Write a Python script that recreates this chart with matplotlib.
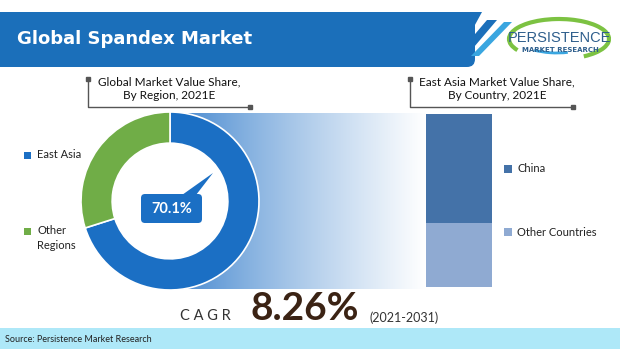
import numpy as np
import matplotlib
matplotlib.use("Agg")
import matplotlib.pyplot as plt
from matplotlib.patches import Polygon, FancyBboxPatch, Rectangle, Arc, Circle

# ---- data ----
regions = ["East Asia", "Other Regions"]
region_share = [70.1, 29.9]
region_colors = ["#1b6fc4", "#70ad47"]
countries = ["China", "Other Countries"]
country_share = [63.0, 37.0]
country_colors = ["#4472a8", "#8faad2"]
title = "Global Spandex Market"
sub_left = "Global Market Value Share,\nBy Region, 2021E"
sub_right = "East Asia Market Value Share,\nBy Country, 2021E"
cagr_value = "8.26%"
cagr_period = "(2021-2031)"
source = "Source: Persistence Market Research"

W, H = 620, 349
fig = plt.figure(figsize=(6.2, 3.49), dpi=100)
fig.patch.set_facecolor("white")
ax = fig.add_axes([0, 0, 1, 1])
ax.set_xlim(0, W)
ax.set_ylim(H, 0)
ax.axis("off")

FONT = "Lato"

# header banner
banner = FancyBboxPatch((-20, 12), 495, 55, boxstyle="round,pad=0,rounding_size=8",
                        fc="#1b6fba", ec="none", zorder=2)
ax.add_patch(banner)
ax.add_patch(Polygon([[440, 12], [482, 12], [452, 67], [420, 67]], closed=True,
                     fc="#1b6fba", ec="none", zorder=2))
ax.add_patch(Polygon([[487, 20], [497, 20], [457, 67], [447, 67]], closed=True,
                     fc="#1b6fba", ec="none", zorder=2))
ax.add_patch(Polygon([[504, 22], [512, 22], [479, 56], [471, 56]], closed=True,
                     fc="#3aa6e0", ec="none", zorder=2))
ax.text(17, 39, title, color="white", fontsize=13, fontweight="bold",
        family="DejaVu Sans", va="center", ha="left", zorder=3)

# logo
ax.add_patch(Arc((559, 39), 100, 40, theta1=165, theta2=35, color="#7cc242", lw=3, zorder=3))
ax.add_patch(Arc((557, 37), 80, 32, theta1=55, theta2=150, color="#3aa6e0", lw=2, zorder=3))
ax.text(559, 37.5, "PERSISTENCE", color="#2e5e8c", fontsize=10.5,
        family="Liberation Sans", ha="center", va="center", zorder=4)
ax.text(560, 50, "MARKET RESEARCH", color="#2e5e8c", fontsize=5, family="DejaVu Sans",
        fontweight="bold", ha="center", va="center", zorder=4)

# subtitles with brackets
def bracket(x0, x1, y0, y1):
    ax.plot([x0, x0, x1], [y0, y1, y1], color="#555555", lw=1, zorder=3)
    ax.plot([x0], [y0], marker="s", ms=2.5, color="#555555", zorder=3)
    ax.plot([x1], [y1], marker="s", ms=2.5, color="#555555", zorder=3)

bracket(88, 250, 79, 107)
ax.text(169, 89, sub_left, fontsize=8.5, family=FONT, color="#111111",
        ha="center", va="center", linespacing=1.3, zorder=3)
bracket(410, 573, 79, 107)
ax.text(497, 89, sub_right, fontsize=8.5, family=FONT, color="#111111",
        ha="center", va="center", linespacing=1.3, zorder=3)

# gradient band
gx = np.linspace(0, 1, 256)
t = np.clip(gx, 0, 1) ** 0.8
c0 = np.array([0.22, 0.50, 0.80])
grad = (c0[None, :] * (1 - t[:, None]) + np.ones(3)[None, :] * t[:, None])
img = np.tile(grad[None, :, :], (2, 1, 1))
ax.imshow(img, extent=[170, 425, 289, 113], aspect="auto", zorder=1, interpolation="bilinear")
ax.set_xlim(0, W)
ax.set_ylim(H, 0)

# donut
cx, cy, r = 170, 201, 89
pax = fig.add_axes([(cx - r) / W, (H - cy - r) / H, 2 * r / W, 2 * r / H])
pax.add_patch(Circle((0, 0), 0.66, fc="white", ec="none", zorder=0))
pax.pie(region_share, colors=region_colors, startangle=90, counterclock=False,
        radius=1, wedgeprops=dict(width=0.35, edgecolor="white", linewidth=1.2))
pax.set_xlim(-1, 1)
pax.set_ylim(-1, 1)
pax.set_aspect("auto")
pax.axis("off")

# overlay for callout (drawn above the donut axes)
ov = fig.add_axes([0, 0, 1, 1])
ov.set_xlim(0, W)
ov.set_ylim(H, 0)
ov.axis("off")
ov.patch.set_alpha(0)
ov.add_patch(FancyBboxPatch((141, 194), 61, 29, boxstyle="round,pad=0,rounding_size=4",
                            fc="#1b6fc4", ec="none", zorder=5))
ov.add_patch(Polygon([[182, 195], [196, 195], [213, 173]], closed=True,
                     fc="#1b6fc4", ec="none", zorder=5))
ov.text(171.5, 209, f"{region_share[0]}%", color="white", fontsize=10.5, fontweight="bold",
        family=FONT, ha="center", va="center", zorder=6)

# left legend
ly = [155, 231]
ax.add_patch(Rectangle((24, ly[0] - 3.5), 7, 7, fc=region_colors[0], ec="none", zorder=3))
ax.text(37, ly[0], regions[0], fontsize=8, family=FONT, color="#222222", ha="left",
        va="center", zorder=3)
ax.add_patch(Rectangle((24, ly[1] - 3.5), 7, 7, fc=region_colors[1], ec="none", zorder=3))
ax.text(37, ly[1] - 6, regions[1].replace(" ", "\n"), fontsize=8, family=FONT,
        color="#222222", ha="left", va="top", linespacing=1.4, zorder=3)

# stacked bar
bx0, bx1, by0, by1 = 426, 492, 114, 287
bax = fig.add_axes([bx0 / W, (H - by1) / H, (bx1 - bx0) / W, (by1 - by0) / H])
bottom = 0
for val, col in zip(country_share[::-1], country_colors[::-1]):
    bax.bar([0], [val], bottom=bottom, width=1.0, color=col, edgecolor="none")
    bottom += val
bax.set_xlim(-0.5, 0.5)
bax.set_ylim(0, 100)
bax.axis("off")

ry = [169, 232]
for i, (lab, col) in enumerate(zip(countries, country_colors)):
    ax.add_patch(Rectangle((504, ry[i] - 4), 8, 8, fc=col, ec="none", zorder=3))
    ax.text(517, ry[i], lab, fontsize=8, family=FONT, color="#222222", ha="left",
            va="center", zorder=3)

# CAGR
ax.text(180, 316, "C A G R", fontsize=10.5, family=FONT, color="#333333",
        ha="left", va="center", zorder=3)
ax.text(250, 308, cagr_value, fontsize=28, fontweight="bold", family=FONT,
        color="#3b2314", ha="left", va="center", zorder=3)
ax.text(369, 318, cagr_period, fontsize=9, family=FONT, color="#333333",
        ha="left", va="center", zorder=3)

# footer
ax.add_patch(Rectangle((0, 328), W, 21, fc="#aee8f8", ec="none", zorder=2))
ax.text(5, 339, source, fontsize=6.5, family=FONT, color="#222222",
        ha="left", va="center", zorder=3)

fig.savefig("out.png", dpi=100)
